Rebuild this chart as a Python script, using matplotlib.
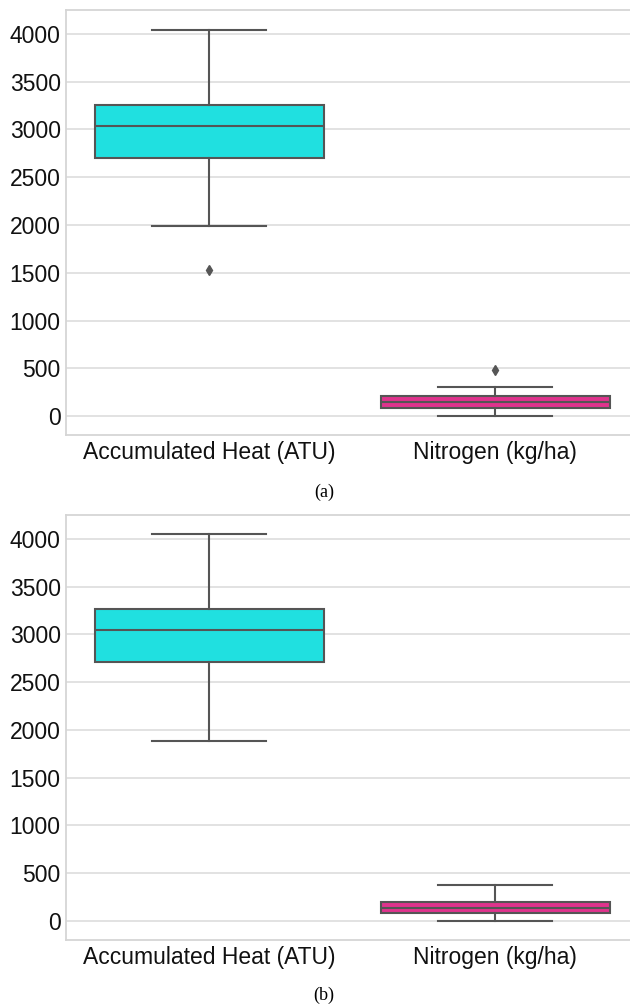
import matplotlib
matplotlib.use("Agg")
import matplotlib.pyplot as plt

# Variables shown on the x axis
categories = ["Accumulated Heat (ATU)", "Nitrogen (kg/ha)"]
box_colors = ["#20e0e0", "#e0338d"]

# Panel (a): box statistics per variable (whislo, q1, median, q3, whishi)
a_whislo = [1990, 0]
a_q1 = [2702, 84]
a_med = [3037, 147]
a_q3 = [3257, 209]
a_whishi = [4045, 304]
a_fliers = [[1529], [482]]

# Panel (b): box statistics per variable
b_whislo = [1879, 0]
b_q1 = [2709, 84]
b_med = [3045, 137]
b_q3 = [3265, 200]
b_whishi = [4050, 378]
b_fliers = [[], []]

captions = ["(a)", "(b)"]

plt.rcParams["font.family"] = ["Liberation Sans", "DejaVu Sans"]

fig = plt.figure(figsize=(6.3, 10.05), dpi=100)
# the plotting area runs slightly past the right edge of the figure
ax_a = fig.add_axes([0.105, 0.567, 0.908, 0.423])
ax_b = fig.add_axes([0.105, 0.0647, 0.908, 0.423])

line_col = "#555555"


def draw_panel(ax, whislo, q1, med, q3, whishi, fliers):
    stats = []
    for i, name in enumerate(categories):
        stats.append(dict(label=name, whislo=whislo[i], q1=q1[i], med=med[i],
                          q3=q3[i], whishi=whishi[i], fliers=fliers[i]))
    bp = ax.bxp(stats, positions=[0, 1], widths=0.8, patch_artist=True,
                showfliers=True,
                boxprops=dict(edgecolor=line_col, linewidth=1.5),
                medianprops=dict(color=line_col, linewidth=1.5),
                whiskerprops=dict(color=line_col, linewidth=1.5),
                capprops=dict(color=line_col, linewidth=1.5),
                flierprops=dict(marker="d", markerfacecolor=line_col,
                                markeredgecolor=line_col, markersize=5))
    for patch, c in zip(bp["boxes"], box_colors):
        patch.set_facecolor(c)
    for cap in bp["caps"]:
        x0, x1 = cap.get_xdata()
        cx = (x0 + x1) / 2
        cap.set_xdata([cx - 0.2, cx + 0.2])
    ax.set_xlim(-0.5, 1.5)
    ax.set_ylim(-200, 4250)
    ax.set_yticks(range(0, 4001, 500))
    ax.set_xticks([0, 1])
    ax.set_xticklabels(categories)
    ax.yaxis.grid(True, color="#dddddd", linewidth=1.2)
    ax.xaxis.grid(False)
    ax.set_axisbelow(True)
    ax.tick_params(length=0, labelsize=16.5, pad=4, labelcolor="#111111")
    for sp in ax.spines.values():
        sp.set_color("#d5d5d5")
        sp.set_linewidth(1.3)


draw_panel(ax_a, a_whislo, a_q1, a_med, a_q3, a_whishi, a_fliers)
draw_panel(ax_b, b_whislo, b_q1, b_med, b_q3, b_whishi, b_fliers)

fig.text(0.514, 1 - 492 / 1005, captions[0], ha="center", va="center",
         family="Liberation Serif", fontsize=13)
fig.text(0.514, 1 - 995 / 1005, captions[1], ha="center", va="center",
         family="Liberation Serif", fontsize=13)

fig.savefig("out.png", dpi=100)
